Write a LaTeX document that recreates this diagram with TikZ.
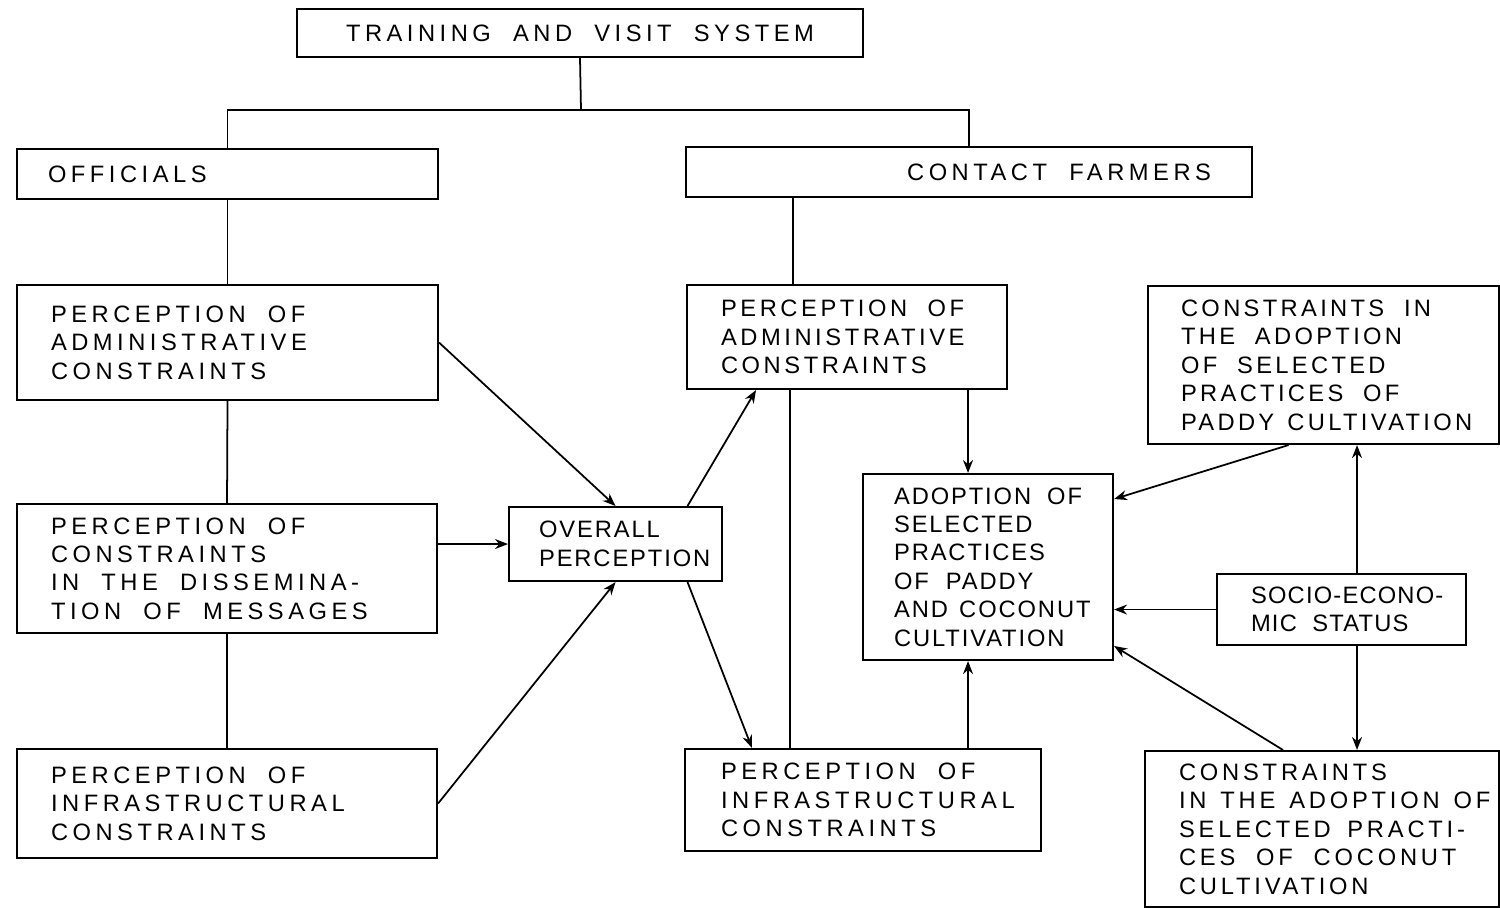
\documentclass[tikz,border=0pt]{standalone}
\usepackage{fontspec}
\setmainfont{Liberation Sans}[LetterSpace=19,WordSpace=2]
\usetikzlibrary{arrows.meta,positioning,calc}
\hyphenpenalty=10000
\exhyphenpenalty=10000
\tikzset{
  blk/.style={draw,line width=1.2pt,anchor=north west,align=flush left,inner ysep=2pt},
  tight/.style={font=\fontsize{13.5}{16.2}\selectfont\addfontfeature{LetterSpace=#1}},
  ar/.style={-{Stealth[length=2.6mm,width=2mm]},line width=1pt},
  ln/.style={line width=1pt},
}

\begin{document}
\begin{tikzpicture}[x=0.02cm,y=-0.02cm,
  every node/.style={font=\fontsize{13.5}{16.2}\selectfont}]
  \useasboundingbox (0,0) rectangle (1500,908);
  % top of the tree
  \node[blk,align=center,minimum width=11.32cm,minimum height=0.96cm] (tvs) at (296,8)
    {TRAINING AND VISIT SYSTEM};
  \node[blk,inner xsep=0.62cm,text width=7.18cm,minimum height=1cm] (off) at (16,148)
    {OFFICIALS};
  \node[blk,align=flush right,inner xsep=0.82cm,text width=9.68cm,minimum height=1cm] (cf) at (685,146)
    {CONTACT~FARMERS};
  % officials side
  \node[blk,inner xsep=0.68cm,text width=7.06cm,minimum height=2.3cm] (oadm) at (16,284)
    {PERCEPTION~OF\\ADMINISTRATIVE\\CONSTRAINTS};
  \node[blk,inner xsep=0.68cm,text width=7.04cm,minimum height=2.58cm] (odis) at (16,503)
    {PERCEPTION~OF\\CONSTRAINTS\\IN~THE~DISSEMINA-\\TION~OF~MESSAGES};
  \node[blk,inner xsep=0.68cm,text width=7.04cm,minimum height=2.18cm] (oinf) at (16,748)
    {PERCEPTION~OF\\INFRASTRUCTURAL\\CONSTRAINTS};
  \node[blk,tight=8,inner xsep=0.6cm,text width=3.06cm,minimum height=1.48cm] (ovr) at (508,506)
    {OVERALL\\PERCEPTION};
  % contact farmers side
  \node[blk,tight=15,inner xsep=0.68cm,text width=5.04cm,minimum height=2.08cm] (cadm) at (686,284)
    {PERCEPTION~OF\\ADMINISTRATIVE\\CONSTRAINTS};
  \node[blk,inner xsep=0.72cm,text width=5.68cm,minimum height=2.04cm] (cinf) at (684,748)
    {PERCEPTION~OF\\INFRASTRUCTURAL\\CONSTRAINTS};
  \node[blk,tight=8,inner xsep=0.62cm,text width=3.76cm,minimum height=3.72cm] (adop) at (862,473)
    {ADOPTION~OF\\SELECTED\\PRACTICES\\OF~PADDY\\AND~COCONUT\\CULTIVATION};
  \node[blk,tight=14,inner xsep=0.66cm,text width=5.7cm,minimum height=3.16cm] (pad) at (1147,285)
    {CONSTRAINTS~IN\\THE~ADOPTION\\OF~SELECTED\\PRACTICES~OF\\PADDY~CULTIVATION};
  \node[blk,tight=5,inner xsep=0.68cm,text width=3.62cm,minimum height=1.42cm] (ses) at (1216,573)
    {SOCIO-ECONO-\\MIC~STATUS};
  \node[blk,tight=16,inner xsep=0.68cm,text width=5.72cm,minimum height=3.12cm] (coc) at (1144,750)
    {CONSTRAINTS\\IN~THE~ADOPTION~OF\\SELECTED~PRACTI-\\CES~OF~COCONUT\\CULTIVATION};
  % tree lines
  \coordinate (split) at (581,110);
  \draw[ln] (tvs.south) -- (split);
  \draw[ln] (off.north) |- (split) -| (cf.north);
  \draw[ln] (off.south) -- (oadm.north);
  \draw[ln] (oadm.south) -- (odis.north);
  \draw[ln] (odis.south) -- (oinf.north);
  \path ([xshift=2.16cm]cf.south west) coordinate (cfdn);
  \draw[ln] (cfdn) -- (cfdn |- cadm.north);
  \path ([xshift=2.08cm]cadm.south west) coordinate (cmid);
  \draw[ln] (cmid) -- (cmid |- cinf.north);
  % arrows into overall perception
  \draw[ar] (oadm.east) -- (ovr.north);
  \draw[ar] (odis.east |- ovr.west) -- (ovr.west);
  \draw[ar] (oinf.east) -- (ovr.south);
  \draw[ar] ([xshift=1.44cm]ovr.north) -- ([xshift=1.4cm]cadm.south west);
  \draw[ar] ([xshift=1.44cm]ovr.south) -- ([xshift=1.36cm]cinf.north west);
  % arrows into adoption
  \path ([xshift=-0.4cm]adop.north) coordinate (adtop);
  \path ([xshift=-0.4cm]adop.south) coordinate (adbot);
  \draw[ar] (adtop |- cadm.south) -- (adtop);
  \draw[ar] (adbot |- cinf.north) -- (adbot);
  \draw[ar] ([xshift=-0.7cm]pad.south) -- ([yshift=1.36cm]adop.east);
  \draw[ar] (ses.west) -- (ses.west -| adop.east);
  \draw[ar] ([xshift=-0.78cm]coc.north) -- ([yshift=-1.58cm]adop.east);
  \path ([xshift=0.31cm]ses.north) coordinate (sesup);
  \path ([xshift=0.31cm]ses.south) coordinate (sesdn);
  \draw[ar] (sesup) -- (sesup |- pad.south);
  \draw[ar] (sesdn) -- (sesdn |- coc.north);
\end{tikzpicture}
\end{document}
